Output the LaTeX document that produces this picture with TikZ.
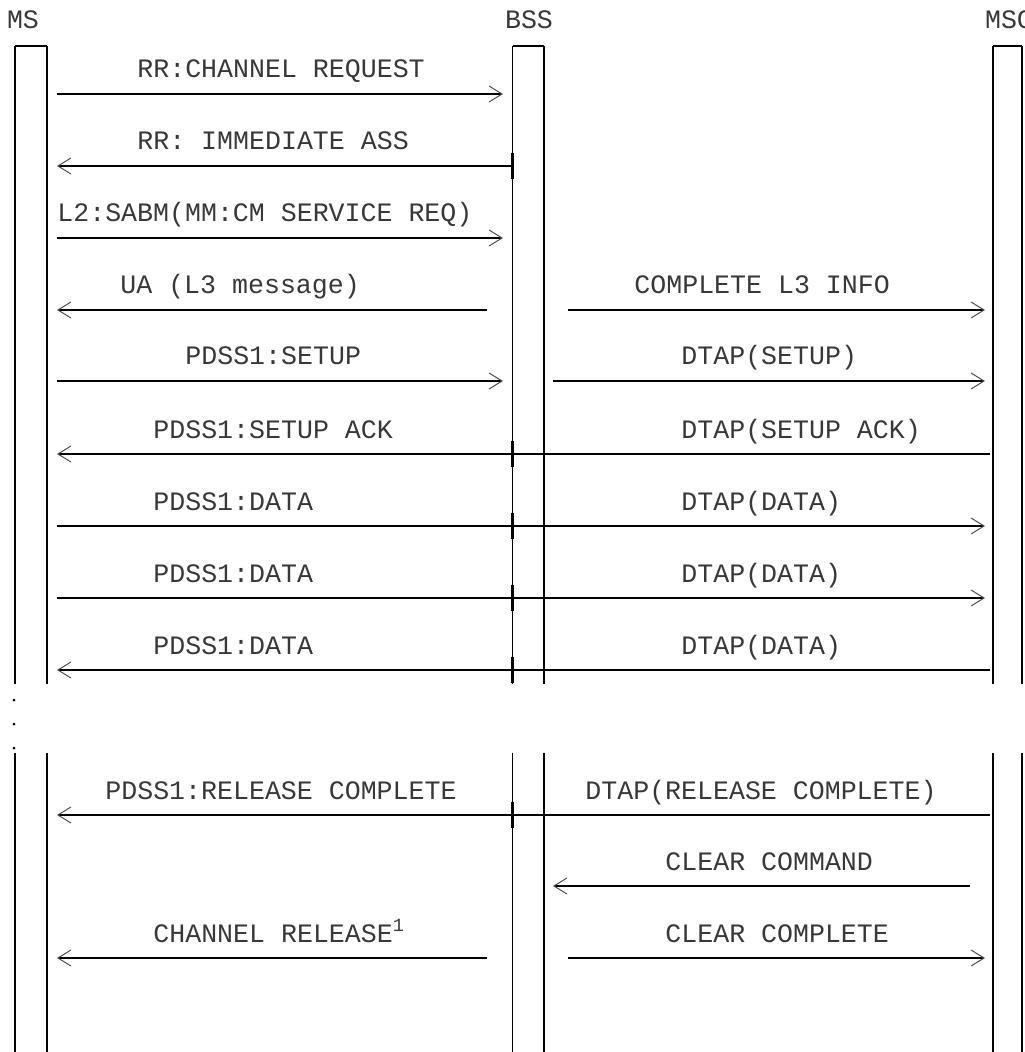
\documentclass[tikz,border=0pt]{standalone}
\usepackage{fontspec}
\setmonofont{Liberation Mono}
\usetikzlibrary{arrows.meta}

\begin{document}
\begin{tikzpicture}[
    x=0.5pt, y=-0.5pt,
    lbl/.style={anchor=base west, inner sep=0pt, font=\ttfamily\fontsize{13.3}{16}\selectfont, text=black!78},
    head/.style={lbl, anchor=base},
    life/.style={draw, line width=0.75pt},
    bar/.style={draw, line width=1.1pt},
    cross/.style={draw, line width=1.2pt},
    msg/.style={draw, line width=1.2pt, -{Straight Barb[length=6.5pt, width=8pt, line width=0.5pt, color=black!70]}}
]
    \useasboundingbox (0,0) rectangle (1024,1052);

    % entities
    \node [head] (ms) at (23,29) {MS};
    \node [head] (bss) at (529,29) {BSS};
    \node [head] (msc) at (1009,29) {MSC};

    % lifelines
    \foreach \x in {15,47,512.5,544,993,1022} {
        \path [life] (\x,46) -- (\x,684);
        \path [life] (\x,753) -- (\x,1052);
    }
    \path [bar] (15,46) -- (47,46);
    \path [bar] (512.5,46) -- (544,46);
    \path [bar] (993,46) -- (1022,46);
    \foreach \y in {700,724,748}
        \fill (14,\y) circle [radius=1.5];

    % lanes and rows
    \coordinate (msE) at (57,0);
    \coordinate (bssIn) at (503,0);
    \coordinate (bssShort) at (487,0);
    \coordinate (bssL) at (512.5,0);
    \coordinate (bssOut) at (568,0);
    \coordinate (bssNear) at (553,0);
    \coordinate (mscShort) at (970,0);
    \coordinate (mscIn) at (985,0);
    \coordinate (mscOut) at (990,0);
    \coordinate (r1) at (0,94);
    \coordinate (r2) at (0,166);
    \coordinate (r3) at (0,238);
    \coordinate (r4) at (0,310);
    \coordinate (r5) at (0,381);
    \coordinate (r6) at (0,454);
    \coordinate (r7) at (0,526);
    \coordinate (r8) at (0,598);
    \coordinate (r9) at (0,670);
    \coordinate (r10) at (0,815);
    \coordinate (r11) at (0,886);
    \coordinate (r12) at (0,958);

    % messages
    \path [msg] (msE |- r1) -- (bssIn |- r1);
    \path [msg] (bssL |- r2) -- (msE |- r2);
    \path [msg] (msE |- r3) -- (bssIn |- r3);
    \path [msg] (bssShort |- r4) -- (msE |- r4);
    \path [msg] (bssOut |- r4) -- (mscIn |- r4);
    \path [msg] (msE |- r5) -- (bssIn |- r5);
    \path [msg] (bssNear |- r5) -- (mscIn |- r5);
    \path [msg] (mscOut |- r6) -- (msE |- r6);
    \path [msg] (msE |- r7) -- (mscIn |- r7);
    \path [msg] (msE |- r8) -- (mscIn |- r8);
    \path [msg] (mscOut |- r9) -- (msE |- r9);
    \path [msg] (mscOut |- r10) -- (msE |- r10);
    \path [msg] (mscShort |- r11) -- (bssNear |- r11);
    \path [msg] (bssShort |- r12) -- (msE |- r12);
    \path [msg] (bssOut |- r12) -- (mscIn |- r12);

    % crossings
    \foreach \y in {454,526,598,670,815}
        \foreach \x in {512.5,544}
            \path [cross] (\x,\y-13) -- (\x,\y+13);
    \path [cross] (512.5,153) -- (512.5,179);

    % labels
    \node [lbl] (t1) at (137,78) {RR:CHANNEL REQUEST};
    \node [lbl] (t2) at (137,150) {RR: IMMEDIATE ASS};
    \node [lbl] (t3) at (57,222) {L2:SABM(MM:CM SERVICE REQ)};
    \node [lbl] (t4) at (120,294) {UA (L3 message)};
    \node [lbl] (t4b) at (634,294) {COMPLETE L3 INFO};
    \node [lbl] (t5) at (185,365) {PDSS1:SETUP};
    \node [lbl] (t5b) at (681,365) {DTAP(SETUP)};
    \node [lbl] (t6) at (153,438) {PDSS1:SETUP ACK};
    \node [lbl] (t6b) at (681,438) {DTAP(SETUP ACK)};
    \node [lbl] (t7) at (153,510) {PDSS1:DATA};
    \node [lbl] (t7b) at (681,510) {DTAP(DATA)};
    \node [lbl] (t8) at (153,582) {PDSS1:DATA};
    \node [lbl] (t8b) at (681,582) {DTAP(DATA)};
    \node [lbl] (t9) at (153,654) {PDSS1:DATA};
    \node [lbl] (t9b) at (681,654) {DTAP(DATA)};
    \node [lbl] (t10) at (105,799) {PDSS1:RELEASE COMPLETE};
    \node [lbl] (t10b) at (585,799) {DTAP(RELEASE COMPLETE)};
    \node [lbl] (t11) at (665,870) {CLEAR COMMAND};
    \node [lbl] (t12) at (153,942) {CHANNEL RELEASE\textsuperscript{1}};
    \node [lbl] (t12b) at (665,942) {CLEAR COMPLETE};
\end{tikzpicture}
\end{document}
